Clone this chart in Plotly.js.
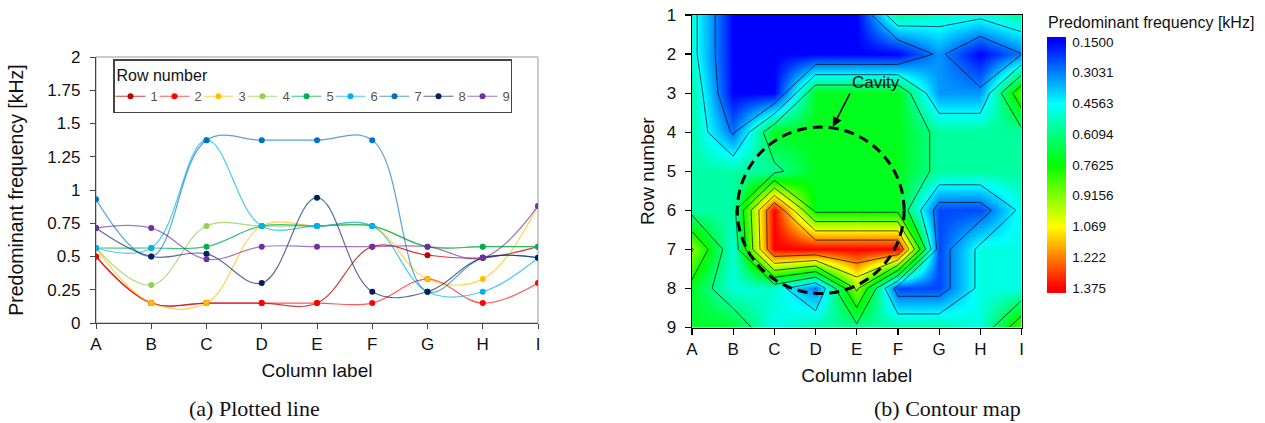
<!DOCTYPE html>
<html>
<head>
<meta charset="utf-8">
<script src="https://cdn.plot.ly/plotly-3.0.1.min.js"></script>
<style>
  html, body { margin: 0; padding: 0; background: #ffffff; }
  #chart { width: 1265px; height: 423px; }
</style>
</head>
<body>
<div id="chart"></div>
<script>
// ---------------- data ----------------
const columns = ['A', 'B', 'C', 'D', 'E', 'F', 'G', 'H', 'I'];
const rowNumbers = [1, 2, 3, 4, 5, 6, 7, 8, 9];

// predominant frequency [kHz] per row, columns A..I
const freqRow1 = [0.50, 0.15, 0.15, 0.15, 0.15, 0.574, 0.51, 0.49, 0.574];
const freqRow2 = [0.50, 0.15, 0.15, 0.15, 0.15, 0.15, 0.33, 0.15, 0.30];
const freqRow3 = [0.564, 0.15, 0.15, 0.729, 0.729, 0.729, 0.33, 0.33, 0.88];
const freqRow4 = [0.564, 0.285, 0.729, 0.729, 0.729, 0.729, 0.574, 0.574, 0.574];
const freqRow5 = [0.564, 0.564, 0.574, 0.729, 0.729, 0.729, 0.574, 0.574, 0.574];
const freqRow6 = [0.564, 0.564, 1.375, 0.729, 0.729, 0.729, 0.235, 0.235, 0.49];
const freqRow7 = [0.93, 0.50, 1.375, 1.375, 1.375, 1.375, 0.235, 0.49, 0.49];
const freqRow8 = [0.714, 0.50, 0.52, 0.30, 0.942, 0.235, 0.235, 0.49, 0.49];
const freqRow9 = [0.714, 0.714, 0.48, 0.574, 0.574, 0.574, 0.574, 0.49, 0.88];

const lineTickVals = [0, 0.25, 0.5, 0.75, 1, 1.25, 1.5, 1.75, 2];
const lineTickText = ['0', '0.25', '0.5', '0.75', '1', '1.25', '1.5', '1.75', '2'];

const levelValues = [0.15, 0.3031, 0.4563, 0.6094, 0.7625, 0.9156, 1.069, 1.222, 1.375];
const levelLabels = ['0.1500', '0.3031', '0.4563', '0.6094', '0.7625', '0.9156', '1.069', '1.222', '1.375'];

// ---------------- styling ----------------
const allRows = [freqRow1, freqRow2, freqRow3, freqRow4, freqRow5, freqRow6, freqRow7, freqRow8, freqRow9];
const markerColors = ['#C00000', '#FF0000', '#FFC000', '#92D050', '#00B050', '#00B0F0', '#0070C0', '#002060', '#7030A0'];
const lineColors = ['rgba(192,0,0,0.75)', 'rgba(255,0,0,0.65)', 'rgba(255,192,0,0.7)', 'rgba(146,208,80,0.75)',
                    'rgba(0,176,80,0.75)', 'rgba(0,176,240,0.7)', 'rgba(0,112,192,0.65)', 'rgba(0,32,96,0.65)', 'rgba(112,48,160,0.65)'];
const levelColors = ['#0000FF', '#0080FF', '#00FFFF', '#00FF80', '#00FF00', '#80FF00', '#FFFF00', '#FF8000', '#FF0000'];

const FONT = 'Liberation Sans, Arial, sans-serif';
const W = 1265, H = 423;
const px = v => v / W;
const py = v => 1 - v / H;

// ---------------- traces ----------------
const traces = [];
allRows.forEach((vals, i) => {
  traces.push({
    type: 'scatter',
    mode: 'lines+markers',
    x: columns,
    y: vals,
    name: String(rowNumbers[i]),
    xaxis: 'x', yaxis: 'y',
    line: { color: lineColors[i], width: 1.2, shape: 'spline', smoothing: 1.1 },
    marker: { color: markerColors[i], size: 6 },
    hoverinfo: 'x+y+name'
  });
});

// contour: negate values so the colour bar reads 0.15 at the top and 1.375 at the bottom
const zNeg = allRows.map(r => r.map(v => -v));
const colIndex = columns.map((c, i) => i);
const zMin = -1.40, zMax = -0.125;
const cscale = [[0, levelColors[8]]];
for (let k = levelValues.length - 1; k >= 0; k--) {
  cscale.push([(-levelValues[k] - zMin) / (zMax - zMin), levelColors[k]]);
}
cscale.push([1, levelColors[0]]);
const step = (levelValues[8] - levelValues[0]) / 8;

traces.push({
  type: 'heatmap',
  x: colIndex, y: rowNumbers, z: zNeg,
  xaxis: 'x2', yaxis: 'y2',
  zmin: zMin, zmax: zMax, colorscale: cscale,
  showlegend: false, hoverinfo: 'skip',
  showscale: true,
  colorbar: {
    x: px(1047), xanchor: 'left', xpad: 0,
    y: py(165), yanchor: 'middle', ypad: 0,
    len: 256, lenmode: 'pixels',
    thickness: 19, thicknessmode: 'pixels',
    outlinewidth: 0,
    tickmode: 'array',
    tickvals: levelValues.map(v => -v),
    ticktext: levelLabels,
    ticks: 'outside', ticklen: 4, tickcolor: 'rgba(0,0,0,0)',
    tickfont: { family: FONT, size: 13.5, color: '#111' }
  }
});

traces.push({
  type: 'contour',
  x: colIndex, y: rowNumbers, z: zNeg,
  xaxis: 'x2', yaxis: 'y2',
  zmin: zMin, zmax: zMax, colorscale: cscale,
  autocontour: false,
  contours: {
    coloring: 'heatmap',
    start: -levelValues[7],
    end: -levelValues[1] + 0.001,
    size: step,
    showlines: true
  },
  line: { color: '#000', width: 0.7, smoothing: 0 },
  showscale: false, showlegend: false, hoverinfo: 'skip'
});

// ---------------- layout ----------------
const layout = {
  width: W, height: H,
  margin: { l: 0, r: 0, t: 0, b: 0 },
  paper_bgcolor: '#ffffff', plot_bgcolor: '#ffffff',
  font: { family: FONT, color: '#111' },
  showlegend: true,
  legend: {
    orientation: 'h',
    x: px(113), xanchor: 'left',
    y: py(59), yanchor: 'top',
    bgcolor: '#ffffff', bordercolor: '#444', borderwidth: 1.5,
    title: { text: 'Row number', side: 'top', font: { family: FONT, size: 16, color: '#111' } },
    font: { family: FONT, size: 13, color: '#555' },
    itemwidth: 30,
    indentation: -4,
    entrywidth: 3, entrywidthmode: 'pixels',
    traceorder: 'normal'
  },
  xaxis: {
    domain: [px(96), px(538)],
    anchor: 'y',
    type: 'category', categoryarray: columns, range: [0, 8],
    showgrid: false, zeroline: false,
    showline: true, linecolor: '#444', linewidth: 1.2,
    ticks: 'outside', ticklen: 5, tickcolor: '#444', tickwidth: 1,
    tickfont: { family: FONT, size: 17, color: '#111' },
    title: { text: 'Column label', font: { family: FONT, size: 19, color: '#111' }, standoff: 11 }
  },
  yaxis: {
    domain: [py(323), py(57)],
    anchor: 'x',
    range: [0, 2],
    tickmode: 'array', tickvals: lineTickVals, ticktext: lineTickText,
    showgrid: false, zeroline: false,
    showline: true, linecolor: '#444', linewidth: 1.2,
    ticks: 'outside', ticklen: 5, tickcolor: '#444', tickwidth: 1,
    ticklabelstandoff: 6,
    tickfont: { family: FONT, size: 17, color: '#111' },
    title: { text: 'Predominant frequency [kHz]', font: { family: FONT, size: 19.5, color: '#111' }, standoff: 18 }
  },
  xaxis2: {
    domain: [px(692), px(1021.5)],
    anchor: 'y2',
    range: [0, 8],
    tickmode: 'array', tickvals: colIndex, ticktext: columns,
    showgrid: false, zeroline: false,
    showline: true, mirror: true, linecolor: '#000', linewidth: 1.5,
    ticks: 'outside', ticklen: 6, tickcolor: '#000', tickwidth: 1.2,
    tickfont: { family: FONT, size: 17, color: '#111' },
    title: { text: 'Column label', font: { family: FONT, size: 19, color: '#111' }, standoff: 10 }
  },
  yaxis2: {
    domain: [py(327.5), py(15)],
    anchor: 'x2',
    range: [9, 1],
    tickmode: 'array', tickvals: rowNumbers,
    showgrid: false, zeroline: false,
    showline: true, mirror: true, linecolor: '#000', linewidth: 1.5,
    ticks: 'outside', ticklen: 6, tickcolor: '#000', tickwidth: 1.2,
    ticklabelstandoff: 5,
    tickfont: { family: FONT, size: 17, color: '#111' },
    title: { text: 'Row number', font: { family: FONT, size: 19, color: '#111' }, standoff: 7 }
  },
  shapes: [
    { type: 'rect', xref: 'x domain', yref: 'y domain', x0: 0, x1: 1, y0: 0, y1: 1,
      line: { color: '#999', width: 1 }, layer: 'below' },
    { type: 'circle', xref: 'x2', yref: 'y2', x0: 1.1, x1: 5.15, y0: 3.87, y1: 8.13,
      line: { color: '#000', width: 3, dash: '10px,6px' } }
  ],
  annotations: [
    { text: 'Cavity', xref: 'x2', yref: 'y2', x: 3.42, y: 3.86,
      ax: 17, ay: -33, xanchor: 'left', yanchor: 'bottom',
      showarrow: true, arrowhead: 2, arrowsize: 1.2, arrowwidth: 1.6, arrowcolor: '#000',
      font: { family: FONT, size: 17, color: '#111' } },
    { text: 'Predominant frequency [kHz]', xref: 'paper', yref: 'paper',
      x: px(1046), y: py(23), xanchor: 'left', yanchor: 'middle', showarrow: false,
      font: { family: FONT, size: 16, color: '#111' } },
    { text: '(a) Plotted line', xref: 'paper', yref: 'paper',
      x: px(254), y: py(408), xanchor: 'center', yanchor: 'middle', showarrow: false,
      font: { family: 'Liberation Serif, Times New Roman, serif', size: 22, color: '#111' } },
    { text: '(b) Contour map', xref: 'paper', yref: 'paper',
      x: px(947), y: py(408), xanchor: 'center', yanchor: 'middle', showarrow: false,
      font: { family: 'Liberation Serif, Times New Roman, serif', size: 22, color: '#111' } }
  ]
};

Plotly.newPlot('chart', traces, layout, { displayModeBar: false, staticPlot: true });
</script>
</body>
</html>
